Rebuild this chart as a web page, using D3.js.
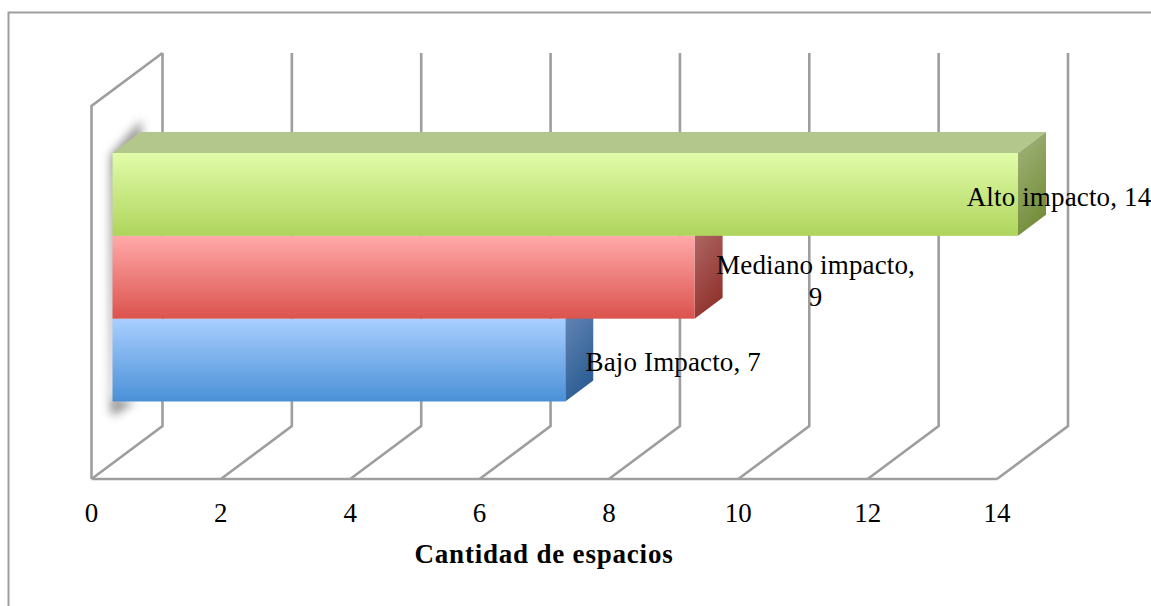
<!DOCTYPE html>
<html lang="es">
<head>
<meta charset="utf-8">
<title>Cantidad de espacios por impacto</title>
<script src="https://cdn.jsdelivr.net/npm/d3@7/dist/d3.min.js"></script>
<style>
  html, body { margin: 0; padding: 0; background: #fff; }
  svg { display: block; }
  text { font-family: "Liberation Serif", serif; fill: #000; }
</style>
</head>
<body>
<svg id="chart" width="1151" height="606"></svg>
<script>
// Series, listed from top to bottom of the chart
const categories = ["Alto impacto", "Mediano impacto", "Bajo Impacto"];
const values = [14, 9, 7];
const tickValues = [0, 2, 4, 6, 8, 10, 12, 14];
const axisTitle = "Cantidad de espacios";

// Face colours: [front top, front bottom, side top, side bottom]
const faceColours = [
  ["#e1fca9", "#afd45c", "#a3b47c", "#748e3b"],
  ["#ffa9a9", "#db534d", "#b3716f", "#92342e"],
  ["#a9cfff", "#4a90d7", "#6c8cb8", "#2d5e95"]
];
const roofColour = "#b3c68b";
const gridColour = "#9e9e9e";

const W = 1151, H = 606;
const plot = { left: 91.5, right: 997, floor: 479, wallTop: 106 };
const wallDepth = { x: 71, y: -53 };   // floor depth of the 3D box
const barInset = { x: 21, y: -16 };    // bars sit part-way into the box
const barDepth = { x: 28, y: -21 };    // thickness of each bar

const x = d3.scaleLinear().domain([0, 14]).range([plot.left, plot.right]);
const y = d3.scaleBand().domain(categories).range([153, 401.5]).padding(0);

const svg = d3.select("#chart");
const defs = svg.append("defs");

// Vertical gradients on the front faces, darkening gradients on the sides
faceColours.forEach((c, i) => {
  const front = defs.append("linearGradient").attr("id", `front${i}`)
    .attr("x1", 0).attr("y1", 0).attr("x2", 0).attr("y2", 1);
  front.append("stop").attr("offset", "0%").attr("stop-color", c[0]);
  front.append("stop").attr("offset", "100%").attr("stop-color", c[1]);
  const side = defs.append("linearGradient").attr("id", `side${i}`)
    .attr("x1", 0).attr("y1", 0).attr("x2", 0.35).attr("y2", 1);
  side.append("stop").attr("offset", "0%").attr("stop-color", c[2]);
  side.append("stop").attr("offset", "100%").attr("stop-color", c[3]);
});
defs.append("filter").attr("id", "soft")
  .attr("x", "-80%").attr("y", "-20%").attr("width", "260%").attr("height", "140%")
  .append("feGaussianBlur").attr("stdDeviation", 5);

// Chart frame: only the top and left edges fall inside the page
svg.append("path")
  .attr("d", `M${W},12.5 H8.5 V${H}`)
  .attr("fill", "none").attr("stroke", gridColour).attr("stroke-width", 2);

// Box wall and floor lines
const grid = svg.append("g").attr("fill", "none")
  .attr("stroke", gridColour).attr("stroke-width", 2.6).attr("stroke-linejoin", "miter");

grid.selectAll("path.tick-line").data(tickValues).join("path")
  .attr("class", "tick-line")
  .attr("d", v => {
    const fx = x(v), bx = fx + wallDepth.x;
    const by = plot.floor + wallDepth.y;
    return `M${fx},${plot.floor} L${bx},${by} V${plot.wallTop + wallDepth.y}`;
  });

grid.append("path")
  .attr("d", `M${x(0)},${plot.floor} V${plot.wallTop} L${x(0) + wallDepth.x},${plot.wallTop + wallDepth.y}`);
grid.append("path")
  .attr("d", `M${x(0)},${plot.floor} H${x(14)}`);

// Soft shadow the bar group casts on the back wall
const shadowTop = y(categories[0]);
const shadowBottom = y(categories[2]) + y.bandwidth();
const base = x(0) + barInset.x;
svg.append("path")
  .attr("d", `M${base - 2},${shadowTop + 2} L${base + barDepth.x + 1},${shadowTop + barDepth.y - 12}
              L${base + barDepth.x + 1},${shadowTop + barDepth.y + 6} L${base + 6},${shadowTop + 24}
              L${base + 1},${shadowBottom - 4} L${base + 22},${shadowBottom + 1}
              L${base + 1},${shadowBottom + 14} L${base - 2},${shadowBottom + 12} Z`)
  .attr("fill", "#7a7a7a").attr("opacity", 0.8).attr("filter", "url(#soft)");

// Lower bars are painted first so the bar above covers their side tops
const bars = svg.selectAll("g.bar")
  .data(categories.map((name, i) => ({ name, value: values[i], i })).reverse())
  .join("g").attr("class", "bar");

bars.filter(d => d.i === 0).append("path")
  .attr("d", d => {
    const t = y(d.name), r = x(d.value) + barInset.x;
    return `M${base},${t} L${base + barDepth.x},${t + barDepth.y} H${r + barDepth.x} L${r},${t} Z`;
  })
  .attr("fill", roofColour);

bars.append("path")
  .attr("d", d => {
    const t = y(d.name), b = t + y.bandwidth(), r = x(d.value) + barInset.x;
    return `M${r},${t} L${r + barDepth.x},${t + barDepth.y} V${b + barDepth.y} L${r},${b} Z`;
  })
  .attr("fill", d => `url(#side${d.i})`);

bars.append("rect")
  .attr("x", base)
  .attr("y", d => y(d.name))
  .attr("width", d => x(d.value) - x(0))
  .attr("height", y.bandwidth())
  .attr("fill", d => `url(#front${d.i})`);

// Value axis labels
svg.selectAll("text.tick").data(tickValues).join("text")
  .attr("class", "tick")
  .attr("x", d => x(d))
  .attr("y", 522)
  .attr("text-anchor", "middle")
  .attr("font-size", 27)
  .text(d => d);

svg.append("text")
  .attr("x", 544).attr("y", 563)
  .attr("text-anchor", "middle")
  .attr("font-size", 27).attr("font-weight", 700).attr("letter-spacing", 0.8)
  .text(axisTitle);

// Data labels; the middle one wraps onto two lines
const labelNudge = [{ dx: 62, y: 206 }, { dx: 142, y: 274 }, { dx: 129, y: 371 }];
const lineGap = 32;
const labelSize = 27;
bars.each(function (d) {
  const n = labelNudge[d.i];
  const cx = x(d.value) + n.dx;
  const lines = d.i === 1 ? [`${d.name},`, `${d.value}`] : [`${d.name}, ${d.value}`];
  const t = svg.append("text")
    .attr("text-anchor", "middle").attr("font-size", labelSize).attr("letter-spacing", 0.15);
  lines.forEach((line, k) => {
    t.append("tspan").attr("x", cx).attr("y", n.y + k * lineGap).text(line);
  });
});
</script>
</body>
</html>
